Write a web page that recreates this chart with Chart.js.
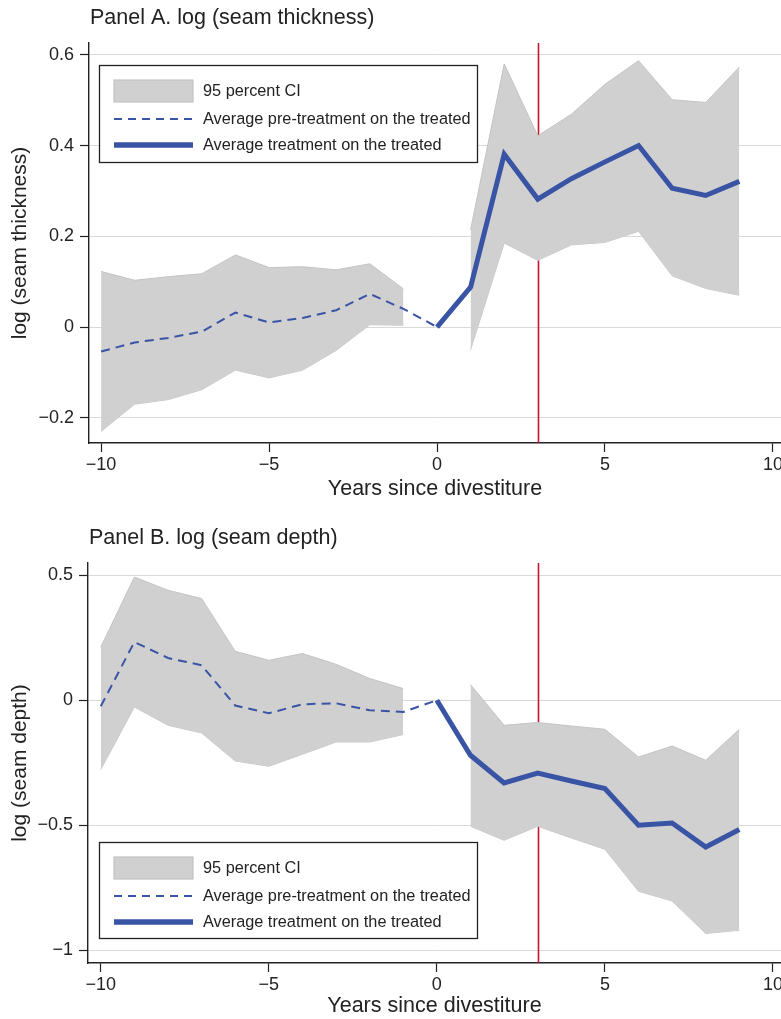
<!DOCTYPE html>
<html>
<head>
<meta charset="utf-8">
<script src="https://cdn.jsdelivr.net/npm/chart.js@4.4.1/dist/chart.umd.min.js"></script>
<style>
  html, body { margin: 0; padding: 0; background: #fff; overflow: hidden; width: 781px; height: 1019px; }
  canvas { position: absolute; left: 0; }
  #panelA { top: 0; }
  #panelB { top: 505px; }
</style>
</head>
<body>
<canvas id="panelA" width="800" height="505"></canvas>
<canvas id="panelB" width="800" height="514"></canvas>
<script>
// Event-time axis
const preYears  = [-10, -9, -8, -7, -6, -5, -4, -3, -2, -1, 0];
const ciPreYears = [-10, -9, -8, -7, -6, -5, -4, -3, -2, -1];
const postYears = [0, 1, 2, 3, 4, 5, 6, 7, 8, 9];
const ciPostYears = [1, 2, 3, 4, 5, 6, 7, 8, 9];
const xTicks = [-10, -5, 0, 5, 10];
const xTickLabels = ['\u221210', '\u22125', '0', '5', '10'];
const eventYear = 3;

// Panel A: log (seam thickness)
const thickPreMean = [-0.054, -0.034, -0.024, -0.010, 0.032, 0.010, 0.020, 0.037, 0.073, 0.040, 0];
const thickPreUpper = [0.1225, 0.103, 0.111, 0.1175, 0.159, 0.131, 0.133, 0.126, 0.1395, 0.084];
const thickPreLower = [-0.230, -0.170, -0.160, -0.138, -0.095, -0.112, -0.095, -0.0515, 0.005, 0.004];
const thickPostMean = [0, 0.088, 0.381, 0.282, 0.327, 0.364, 0.400, 0.306, 0.290, 0.321];
const thickPostUpper = [0.2145, 0.580, 0.4216, 0.469, 0.535, 0.587, 0.501, 0.495, 0.573];
const thickPostLower = [-0.050, 0.185, 0.147, 0.181, 0.1865, 0.211, 0.113, 0.085, 0.070];
const thickYTicks = [-0.2, 0, 0.2, 0.4, 0.6];
const thickYTickLabels = ['\u22120.2', '0', '0.2', '0.4', '0.6'];

// Panel B: log (seam depth)
const depthPreMean = [-0.024, 0.233, 0.169, 0.140, -0.021, -0.052, -0.016, -0.012, -0.040, -0.047, 0];
const depthPreUpper = [0.213, 0.493, 0.440, 0.407, 0.196, 0.160, 0.187, 0.144, 0.087, 0.047];
const depthPreLower = [-0.277, -0.027, -0.100, -0.131, -0.243, -0.264, -0.216, -0.167, -0.167, -0.137];
const depthPostMean = [0, -0.220, -0.331, -0.291, -0.323, -0.353, -0.500, -0.491, -0.587, -0.517];
const depthPostUpper = [0.063, -0.100, -0.089, -0.103, -0.116, -0.227, -0.183, -0.240, -0.116];
const depthPostLower = [-0.504, -0.560, -0.504, -0.551, -0.596, -0.764, -0.803, -0.933, -0.920];
const depthYTicks = [-1, -0.5, 0, 0.5];
const depthYTickLabels = ['\u22121', '\u22120.5', '0', '0.5'];

const legendLabels = ['95 percent CI', 'Average pre-treatment on the treated', 'Average treatment on the treated'];

const FONT = '"Liberation Sans", Arial, Helvetica, sans-serif';
const BLUE = '#3a54a5';
const BAND_FILL = 'rgb(208,208,208)';
const BAND_EDGE = 'rgb(196,196,196)';
const RED = '#c81432';
const INK = '#222222';

const zip = (xs, ys) => xs.map((x, i) => ({ x: x, y: ys[i] }));

// Vertical reference line at the event year; it sits behind the confidence band,
// so only the parts above and below the band at that year are stroked.
const eventLine = {
  id: 'eventLine',
  beforeDatasetsDraw(chart, args, opts) {
    const { ctx, chartArea, scales } = chart;
    const px = Math.round(scales.x.getPixelForValue(eventYear)) + 0.5;
    const k = ciPostYears.indexOf(eventYear);
    const yTop = scales.y.getPixelForValue(opts.upper[k]);
    const yBot = scales.y.getPixelForValue(opts.lower[k]);
    ctx.save();
    ctx.strokeStyle = RED;
    ctx.lineWidth = 1.6;
    ctx.beginPath();
    ctx.moveTo(px, chartArea.top);
    ctx.lineTo(px, yTop);
    ctx.moveTo(px, yBot);
    ctx.lineTo(px, chartArea.bottom);
    ctx.stroke();
    ctx.restore();
  }
};

// Panel heading drawn above the plot area
const panelTitle = {
  id: 'panelTitle',
  afterDraw(chart, args, opts) {
    const ctx = chart.ctx;
    ctx.save();
    ctx.font = '21.5px ' + FONT;
    ctx.fillStyle = INK;
    ctx.textBaseline = 'middle';
    ctx.textAlign = 'left';
    ctx.fillText(opts.text, chart.chartArea.left + 1, chart.chartArea.top + opts.offset);
    ctx.restore();
  }
};

// Boxed legend inside the plot area
const boxLegend = {
  id: 'boxLegend',
  afterDraw(chart, args, opts) {
    const ctx = chart.ctx;
    const L = opts.left, T = opts.top, W = opts.width, H = opts.height;
    ctx.save();
    ctx.fillStyle = '#fff';
    ctx.fillRect(L, T, W, H);
    ctx.strokeStyle = INK;
    ctx.lineWidth = 1.3;
    ctx.strokeRect(L + 0.5, T + 0.5, W, H);
    const sx0 = L + 15, sx1 = L + 94, tx = L + 104;
    const rows = [T + 26, T + 54, T + 80];
    // band swatch
    ctx.fillStyle = BAND_FILL;
    ctx.fillRect(sx0, rows[0] - 11, sx1 - sx0, 22);
    ctx.strokeStyle = BAND_EDGE;
    ctx.lineWidth = 1.2;
    ctx.strokeRect(sx0, rows[0] - 11, sx1 - sx0, 22);
    // dashed mean
    ctx.strokeStyle = BLUE;
    ctx.lineWidth = 2;
    ctx.setLineDash([8, 6]);
    ctx.beginPath(); ctx.moveTo(sx0, rows[1]); ctx.lineTo(sx1, rows[1]); ctx.stroke();
    // solid mean
    ctx.setLineDash([]);
    ctx.lineWidth = 5.5;
    ctx.beginPath(); ctx.moveTo(sx0, rows[2]); ctx.lineTo(sx1, rows[2]); ctx.stroke();
    ctx.font = '16.3px ' + FONT;
    ctx.fillStyle = INK;
    ctx.textBaseline = 'middle';
    ctx.textAlign = 'left';
    legendLabels.forEach((t, i) => ctx.fillText(t, tx, rows[i] + 1));
    ctx.restore();
  }
};

function makePanel(canvasId, p) {
  const bandStyle = {
    borderColor: BAND_EDGE, borderWidth: 1, backgroundColor: BAND_FILL,
    pointRadius: 0, tension: 0, order: 2
  };
  new Chart(document.getElementById(canvasId), {
    type: 'line',
    data: {
      datasets: [
        Object.assign({ label: 'preUpper', data: zip(ciPreYears, p.preUpper), fill: '+1' }, bandStyle),
        Object.assign({ label: 'preLower', data: zip(ciPreYears, p.preLower), fill: false }, bandStyle),
        Object.assign({ label: 'postUpper', data: zip(ciPostYears, p.postUpper), fill: '+1' }, bandStyle),
        Object.assign({ label: 'postLower', data: zip(ciPostYears, p.postLower), fill: false }, bandStyle),
        { label: legendLabels[1], data: zip(preYears, p.preMean), borderColor: BLUE, borderWidth: 2,
          borderDash: [9, 6], pointRadius: 0, fill: false, tension: 0, order: 1 },
        { label: legendLabels[2], data: zip(postYears, p.postMean), borderColor: BLUE, borderWidth: 5,
          pointRadius: 0, fill: false, tension: 0, order: 0, borderJoinStyle: 'miter' }
      ]
    },
    options: {
      responsive: false,
      animation: false,
      devicePixelRatio: 1,
      layout: { padding: { left: 0, top: p.padTop, right: 19, bottom: 0 } },
      plugins: {
        filler: { drawTime: 'beforeDatasetDraw' },
        legend: { display: false },
        tooltip: { enabled: false },
        eventLine: { upper: p.postUpper, lower: p.postLower },
        panelTitle: { text: p.title, offset: -25 },
        boxLegend: p.legend
      },
      scales: {
        x: {
          type: 'linear',
          min: p.xMin, max: 10.24,
          afterFit: s => { s.height = p.xAxisHeight; },
          afterBuildTicks: s => { s.ticks = xTicks.map(v => ({ value: v })); },
          ticks: {
            autoSkip: false, maxRotation: 0, padding: 2,
            color: INK, font: { family: FONT, size: 18 },
            callback: (v, i) => xTickLabels[i]
          },
          grid: { drawOnChartArea: false, drawTicks: true, tickLength: 9, tickColor: INK, tickWidth: 1.2 },
          border: { display: true, color: INK, width: 1.4 },
          title: { display: true, text: 'Years since divestiture', color: INK,
                   font: { family: FONT, size: 21.5 }, padding: { top: 0, bottom: p.xTitlePad } }
        },
        y: {
          type: 'linear',
          min: p.yMin, max: p.yMax,
          afterFit: s => { s.width = p.yAxisWidth; },
          afterBuildTicks: s => { s.ticks = p.yTicks.map(v => ({ value: v })); },
          ticks: {
            autoSkip: false, padding: 6,
            color: INK, font: { family: FONT, size: 18 },
            callback: (v, i) => p.yTickLabels[i]
          },
          grid: { color: '#d9d9d9', lineWidth: 1, drawTicks: true, tickLength: 9, tickColor: INK, tickWidth: 1.2 },
          border: { display: true, color: INK, width: 1.4 },
          title: { display: true, text: p.yTitle, color: INK,
                   font: { family: FONT, size: 21 }, padding: { top: 8, bottom: 0 } }
        }
      }
    },
    plugins: [eventLine, panelTitle, boxLegend]
  });
}

makePanel('panelA', {
  title: 'Panel A. log (seam thickness)',
  yTitle: 'log (seam thickness)',
  yMin: -0.2556, yMax: 0.626, xMin: -10.36,
  yTicks: thickYTicks, yTickLabels: thickYTickLabels,
  preMean: thickPreMean, preUpper: thickPreUpper, preLower: thickPreLower,
  postMean: thickPostMean, postUpper: thickPostUpper, postLower: thickPostLower,
  padTop: 43, yAxisWidth: 89, xAxisHeight: 62, xTitlePad: 3,
  legend: { left: 99, top: 65, width: 378, height: 97 }
});

makePanel('panelB', {
  title: 'Panel B. log (seam depth)',
  yTitle: 'log (seam depth)',
  yMin: -1.051, yMax: 0.549, xMin: -10.38,
  yTicks: depthYTicks, yTickLabels: depthYTickLabels,
  preMean: depthPreMean, preUpper: depthPreUpper, preLower: depthPreLower,
  postMean: depthPostMean, postUpper: depthPostUpper, postLower: depthPostLower,
  padTop: 58, yAxisWidth: 88, xAxisHeight: 56, xTitlePad: 0,
  legend: { left: 99, top: 337, width: 378, height: 96 }
});
</script>
</body>
</html>
